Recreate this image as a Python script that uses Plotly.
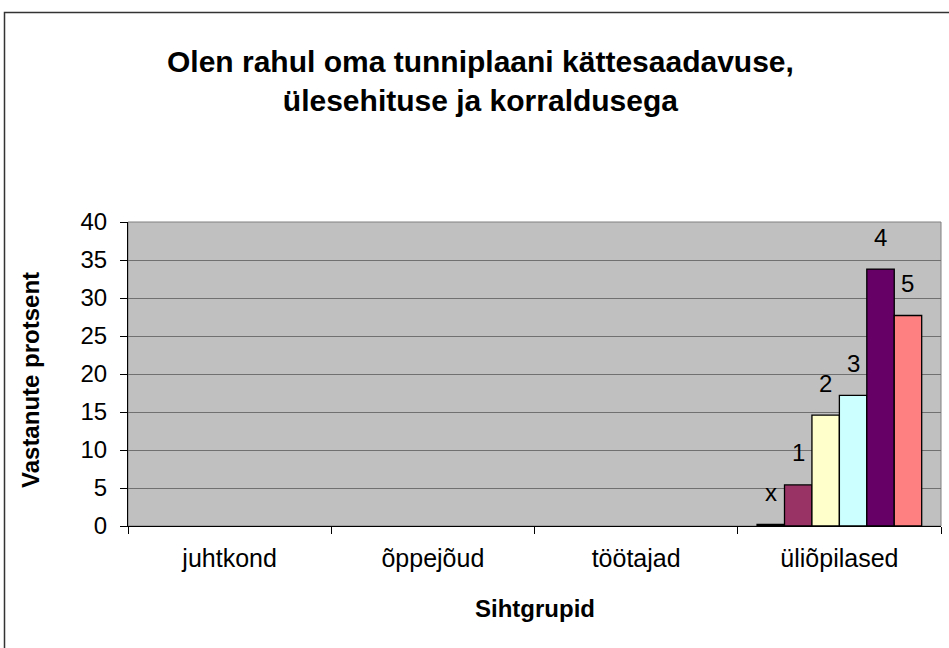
import plotly.graph_objects as go

categories = ["juhtkond", "õppejõud", "töötajad", "üliõpilased"]
series_names = ["x", "1", "2", "3", "4", "5"]
series_values = [
    [None, None, None, 0.2],
    [None, None, None, 5.4],
    [None, None, None, 14.6],
    [None, None, None, 17.2],
    [None, None, None, 33.8],
    [None, None, None, 27.7],
]
series_colors = ["#000080", "#993366", "#FFFFCC", "#CCFFFF", "#660066", "#FF8080"]
y_ticks = [0, 5, 10, 15, 20, 25, 30, 35, 40]

FONT = "Liberation Sans, Arial, sans-serif"
W, H = 949, 648
ML, MR, MT, MB = 128, 8, 222, 122
PW = W - ML - MR
PH = H - MT - MB
BARGAP = 0.19

fig = go.Figure()
for name, vals, col in zip(series_names, series_values, series_colors):
    fig.add_trace(go.Bar(
        x=categories, y=vals, name=name,
        marker=dict(color=col, line=dict(color="black", width=1.3)),
        hoverinfo="x+y+name",
    ))

# series-name labels above the bars (Excel-style data labels)
bar_w = PW / len(categories) * (1 - BARGAP) / len(series_names)
annotations = []
n = len(series_names)
for i, (name, vals) in enumerate(zip(series_names, series_values)):
    for cat, v in zip(categories, vals):
        if v is None:
            continue
        annotations.append(dict(
            x=cat, y=v, xref="x", yref="y", text=name, showarrow=False,
            xshift=(i - (n - 1) / 2) * bar_w, yshift=32,
            xanchor="center", yanchor="middle",
            font=dict(family=FONT, size=24, color="black"),
        ))

annotations += [
    dict(text="<b>Olen rahul oma tunniplaani kättesaadavuse,<br>ülesehituse ja korraldusega</b>",
         xref="paper", yref="paper", x=(480 - ML) / PW, y=1 + (MT - 81) / PH,
         xanchor="center", yanchor="middle", showarrow=False,
         font=dict(family=FONT, size=30), align="center"),
    dict(text="<b>Vastanute protsent</b>", textangle=-90,
         xref="paper", yref="paper", x=(30 - ML) / PW, y=1 - (380 - MT) / PH,
         xanchor="center", yanchor="middle", showarrow=False,
         font=dict(family=FONT, size=24)),
    dict(text="<b>Sihtgrupid</b>",
         xref="paper", yref="paper", x=0.5, y=-(608 - (H - MB)) / PH,
         xanchor="center", yanchor="middle", showarrow=False,
         font=dict(family=FONT, size=24)),
]

fig.update_layout(
    width=W, height=H,
    margin=dict(l=ML, r=MR, t=MT, b=MB),
    paper_bgcolor="white", plot_bgcolor="#C0C0C0",
    barmode="group", bargap=BARGAP, bargroupgap=0,
    showlegend=False,
    font=dict(family=FONT, color="black"),
    xaxis=dict(
        type="category", showgrid=False, ticks="outside", tickson="boundaries",
        ticklen=7, tickcolor="black", showline=True, linecolor="black", linewidth=1,
        tickfont=dict(family=FONT, size=25), ticklabelstandoff=10,
    ),
    yaxis=dict(
        range=[0, 40], tickvals=y_ticks, ticks="outside", ticklen=7, tickcolor="black",
        showgrid=True, gridcolor="#707070", gridwidth=1,
        showline=True, linecolor="black", linewidth=1,
        tickfont=dict(family=FONT, size=24), zeroline=False, ticklabelstandoff=8,
    ),
    annotations=annotations,
    shapes=[
        dict(type="rect", xref="paper", yref="paper", x0=0, x1=1, y0=0, y1=1,
             line=dict(color="#808080", width=1), layer="below"),
        dict(type="rect", xref="paper", yref="paper",
             x0=(4.5 - ML) / PW, x1=1.1, y0=-0.5, y1=1 + (MT - 12.5) / PH,
             line=dict(color="#333333", width=1.5)),
    ],
)

fig.write_html("out.html", config={"displayModeBar": False},
               post_script="document.body.style.margin='0';")
